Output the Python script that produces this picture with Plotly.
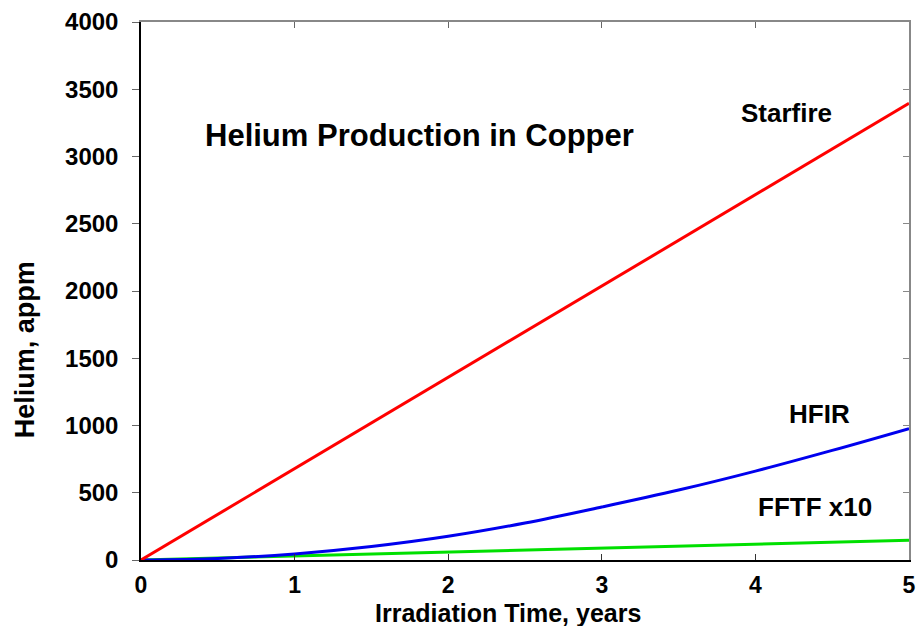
import plotly.graph_objects as go

years = [0, 0.5, 1, 1.5, 2, 2.5, 3, 3.5, 4, 4.5, 5]
starfire = [0, 339, 679, 1018, 1358, 1697, 2037, 2376, 2716, 3055, 3395]
hfir = [0, 12, 45, 100, 176, 275, 394, 520, 661, 815, 977]
fftf_x10 = [0, 15, 30, 43, 57, 71, 86, 100, 115, 130, 146]

x_ticks = [0, 1, 2, 3, 4, 5]
y_ticks = [0, 500, 1000, 1500, 2000, 2500, 3000, 3500, 4000]

FONT = "Liberation Sans, Arial, sans-serif"

fig = go.Figure()
fig.add_trace(go.Scatter(x=years, y=fftf_x10, mode="lines", line=dict(color="#00e000", width=3), name="FFTF x10"))
fig.add_trace(go.Scatter(x=years, y=hfir, mode="lines", line=dict(color="#0000ee", width=3, shape="spline"), name="HFIR"))
fig.add_trace(go.Scatter(x=years, y=starfire, mode="lines", line=dict(color="#ff0000", width=3), name="Starfire"))
# helper trace for mirrored top/right axes
fig.add_trace(go.Scatter(x=years, y=starfire, mode="lines", line=dict(width=0), xaxis="x2", yaxis="y2",
                         hoverinfo="skip", showlegend=False, opacity=0))

tick_font = dict(size=24, family=FONT, weight="bold", color="black")

fig.update_layout(
    width=916, height=626,
    margin=dict(l=141, r=7, t=22, b=66),
    plot_bgcolor="white", paper_bgcolor="white",
    showlegend=False,
    font=dict(family=FONT, color="black"),
    xaxis=dict(range=[0, 5], tickvals=x_ticks, ticks="inside", ticklen=6, tickcolor="#333",
               showline=True, linecolor="black", linewidth=1.5, showgrid=False, zeroline=False,
               tickfont=dict(size=23, family=FONT, weight="bold", color="black"),
               ticklabelstandoff=4, automargin=False),
    yaxis=dict(range=[0, 4000], tickvals=y_ticks, ticks="outside", ticklen=7, tickcolor="#666",
               showline=True, linecolor="black", linewidth=1.5, showgrid=False, zeroline=False,
               tickfont=tick_font, ticklabelstandoff=9, automargin=False),
    xaxis2=dict(range=[0, 5], tickvals=x_ticks, overlaying="x", side="top", ticks="inside", ticklen=6,
                tickcolor="#666", showline=True, linecolor="#888", linewidth=1.5, showticklabels=False,
                showgrid=False, zeroline=False, automargin=False),
    yaxis2=dict(range=[0, 4000], tickvals=y_ticks, overlaying="y", side="right", ticks="inside", ticklen=6,
                tickcolor="#888", showline=True, linecolor="#888", linewidth=1.5, showticklabels=False,
                showgrid=False, zeroline=False, automargin=False),
)

ann_font = dict(size=26, family=FONT, color="black", weight="bold")
fig.add_annotation(x=1.81, y=3158, text="Helium Production in Copper", showarrow=False,
                   font=dict(size=31, family=FONT, color="black", weight="bold"))
fig.add_annotation(x=4.2, y=3323, text="Starfire", showarrow=False, font=ann_font)
fig.add_annotation(x=4.42, y=1083, text="HFIR", showarrow=False, font=ann_font)
fig.add_annotation(x=4.39, y=391, text="FFTF x10", showarrow=False, font=ann_font)
fig.add_annotation(xref="paper", yref="paper", x=0.478, y=-0.098, xanchor="center", yanchor="middle",
                   text="Irradiation Time, years", showarrow=False,
                   font=dict(size=25, family=FONT, color="black", weight="bold"))
fig.add_annotation(xref="paper", yref="paper", x=-0.151, y=0.39, xanchor="center", yanchor="middle",
                   text="Helium, appm", textangle=-90, showarrow=False,
                   font=dict(size=27, family=FONT, color="black", weight="bold"))

fig.write_html("out.html", config={"displayModeBar": False},
               post_script="document.body.style.margin='0';document.body.style.overflow='hidden';")
